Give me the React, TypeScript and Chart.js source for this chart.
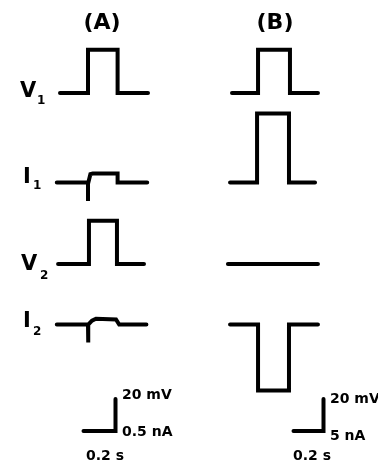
import React, { useEffect, useRef } from "react";
import { Chart, registerables } from "chart.js";
Chart.register(...registerables);

// ---------- DATA (time in s, voltage in mV, current in nA) ----------
// Panel A
const tV1A = [0, 0.175, 0.175, 0.36, 0.36, 0.55];
const vV1A = [0, 0, 27, 27, 0, 0];
const tI1A = [-0.02, 0.175, 0.175, 0.175, 0.19, 0.205, 0.36, 0.36, 0.545];
const iI1A = [0, 0, -0.29, -0.02, 0.13, 0.14, 0.14, 0, 0];
const tV2A = [-0.012, 0.181, 0.181, 0.356, 0.356, 0.525];
const vV2A = [0, 0, 27, 27, 0, 0];
const tI2A = [-0.02, 0.175, 0.175, 0.178, 0.2, 0.225, 0.35, 0.37, 0.54];
const iI2A = [0, 0, -0.28, 0.0, 0.06, 0.09, 0.08, 0, 0];
// Panel B
const tV1B = [0, 0.186, 0.186, 0.414, 0.414, 0.614];
const vV1B = [0, 0, 27, 27, 0, 0];
const tI1B = [-0.014, 0.179, 0.179, 0.407, 0.407, 0.593];
const iI1B = [0, 0, 10.8, 10.8, 0, 0];
const tV2B = [-0.029, 0.614];
const vV2B = [0, 0];
const tI2B = [-0.014, 0.186, 0.186, 0.407, 0.407, 0.614];
const iI2B = [0, 0, -10.3, -10.3, 0, 0];
// Scale bars
const barTime = 0.2; // s
const barVoltage = 20; // mV
const barCurrentA = 0.5; // nA
const barCurrentB = 5; // nA
// Labels
const panelTitles = ["(A)", "(B)"];
const traceNames = [
  ["V", "1"],
  ["I", "1"],
  ["V", "2"],
  ["I", "2"],
];

// ---------- LAYOUT ----------
const W = 378;
const H = 468;
const panels = [
  { x0: 60, pxPerS: 160, pxPerMV: 1.6, pxPerNA: 64, barX: 115.5, barY: 431 },
  { x0: 232, pxPerS: 150, pxPerMV: 1.6, pxPerNA: 6.4, barX: 323.5, barY: 431 },
];
const baselines = [93, 182.5, 264, 324.5];

function trace(ts: number[], vs: number[], p: number, row: number, kind: "V" | "I") {
  const P = panels[p];
  const k = kind === "V" ? P.pxPerMV : P.pxPerNA;
  const sx = p === 1 ? 140 : P.pxPerS;
  return ts.map((t, i) => ({ x: P.x0 + t * sx, y: baselines[row] - vs[i] * k }));
}

function scaleBar(p: number) {
  const P = panels[p];
  return [
    { x: P.barX - barTime * P.pxPerS, y: P.barY },
    { x: P.barX, y: P.barY },
    { x: P.barX, y: P.barY - barVoltage * P.pxPerMV },
  ];
}

const textPlugin = {
  id: "figText",
  afterDraw(chart: any) {
    const ctx = chart.ctx as CanvasRenderingContext2D;
    ctx.save();
    ctx.fillStyle = "#000";
    ctx.textBaseline = "middle";
    const fam = '"DejaVu Sans", "Liberation Sans", Arial, sans-serif';
    // titles
    ctx.font = `bold 22px ${fam}`;
    ctx.textAlign = "center";
    ctx.fillText(panelTitles[0], 102, 23);
    ctx.fillText(panelTitles[1], 275, 23);
    // trace names
    ctx.textAlign = "left";
    const nameX = [20, 23, 21, 23];
    const nameY = [92, 178, 265, 322];
    const subX = [37, 33, 40, 33];
    const subY = [101, 186, 276, 332];
    traceNames.forEach((n, i) => {
      ctx.font = `bold 21px ${fam}`;
      ctx.fillText(n[0], nameX[i], nameY[i]);
      ctx.font = `bold 12px ${fam}`;
      ctx.fillText(n[1], subX[i], subY[i]);
    });
    // scale labels
    ctx.font = `bold 14px ${fam}`;
    ctx.fillText(`${barVoltage} mV`, 122, 395);
    ctx.fillText(`${barCurrentA} nA`, 122, 432);
    ctx.fillText(`${barTime} s`, 86, 456);
    ctx.fillText(`${barVoltage} mV`, 330, 399);
    ctx.fillText(`${barCurrentB} nA`, 330, 436);
    ctx.fillText(`${barTime} s`, 293, 456);
    ctx.restore();
  },
};

export default function App() {
  const ref = useRef<HTMLCanvasElement>(null);
  useEffect(() => {
    document.body.style.margin = "0";
    if (!ref.current) return;
    const series = [
      trace(tV1A, vV1A, 0, 0, "V"),
      trace(tI1A, iI1A, 0, 1, "I"),
      trace(tV2A, vV2A, 0, 2, "V"),
      trace(tI2A, iI2A, 0, 3, "I"),
      trace(tV1B, vV1B, 1, 0, "V"),
      trace(tI1B, iI1B, 1, 1, "I"),
      trace(tV2B, vV2B, 1, 2, "V"),
      trace(tI2B, iI2B, 1, 3, "I"),
      scaleBar(0),
      scaleBar(1),
    ];
    const chart = new Chart(ref.current, {
      type: "scatter",
      data: {
        datasets: series.map((d) => ({
          data: d,
          showLine: true,
          borderColor: "#000",
          borderWidth: 4,
          borderCapStyle: "round",
          borderJoinStyle: "miter",
          pointRadius: 0,
          tension: 0,
          fill: false,
        })) as any,
      },
      options: {
        animation: false,
        responsive: false,
        events: [],
        layout: { padding: 0 },
        plugins: { legend: { display: false }, tooltip: { enabled: false }, title: { display: false } },
        scales: {
          x: { type: "linear", min: 0, max: W, display: false },
          y: { type: "linear", min: 0, max: H, reverse: true, display: false },
        },
      },
      plugins: [textPlugin],
    });
    return () => chart.destroy();
  }, []);
  return (
    <div style={{ position: "absolute", left: 0, top: 0, width: W, height: H, background: "#fff" }}>
      <canvas ref={ref} width={W} height={H} />
    </div>
  );
}
